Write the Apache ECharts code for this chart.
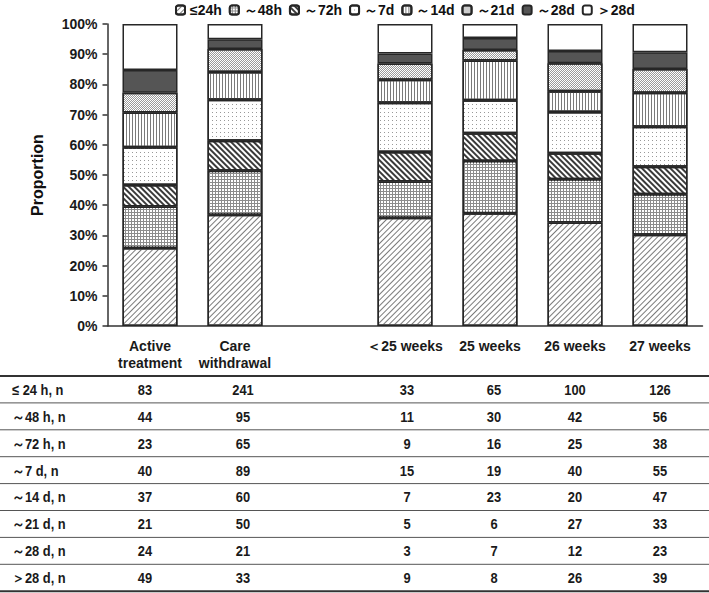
<!DOCTYPE html>
<html><head><meta charset="utf-8">
<script src="https://cdn.jsdelivr.net/npm/echarts@6/dist/echarts.min.js"></script>
<style>html,body{margin:0;padding:0;background:#fff}#c{width:709px;height:593px}</style>
</head><body><div id="c"></div>
<script>
// ---- data ----
const categories = ['Active\ntreatment', 'Care\nwithdrawal', '', '＜25 weeks', '25 weeks', '26 weeks', '27 weeks'];
const groupSlots = [0, 1, 3, 4, 5, 6];
const seriesNames = ['≤24h', '～48h', '～72h', '～7d', '～14d', '～21d', '～28d', '＞28d'];
const rowLabels = ['≤ 24 h, n', '～48 h, n', '～72 h, n', '～7 d, n', '～14 d, n', '～21 d, n', '～28 d, n', '＞28 d, n'];
const le24h = [83, 241, 33, 65, 100, 126];
const to48h = [44, 95, 11, 30, 42, 56];
const to72h = [23, 65, 9, 16, 25, 38];
const to7d = [40, 89, 15, 19, 40, 55];
const to14d = [37, 60, 7, 23, 20, 47];
const to21d = [21, 50, 5, 6, 27, 33];
const to28d = [24, 21, 3, 7, 12, 23];
const gt28d = [49, 33, 9, 8, 26, 39];
const yTicks = [0, 10, 20, 30, 40, 50, 60, 70, 80, 90, 100];

const counts = [le24h, to48h, to72h, to7d, to14d, to21d, to28d, gt28d];
const totals = groupSlots.map((_, g) => counts.reduce((s, arr) => s + arr[g], 0));

// ---- styles ----
const wide = '"Liberation Sans", Arial, sans-serif';
const fills = ['#ffffff', '#8c8c8c', '#ffffff', '#ffffff', '#ffffff', '#ffffff', '#555555', '#ffffff'];
const decals = [
  {symbol: 'rect', symbolSize: 1, dashArrayX: [1, 0], dashArrayY: [1, 3], rotation: -Math.PI / 4, color: '#7a7a7a'},
  {symbol: 'rect', symbolSize: 1, dashArrayX: [2, 1], dashArrayY: [2, 1], color: '#ffffff'},
  {symbol: 'rect', symbolSize: 1, dashArrayX: [1, 0], dashArrayY: [2, 2], rotation: Math.PI / 4, color: '#3a3a3a'},
  {symbol: 'rect', symbolSize: 1, dashArrayX: [1, 3], dashArrayY: [1, 3], color: '#999999'},
  {symbol: 'rect', symbolSize: 1, dashArrayX: [1, 2], dashArrayY: [1, 0], color: '#7a7a7a'},
  {symbol: 'rect', symbolSize: 1, dashArrayX: [[1, 1], [0, 1, 1, 0]], dashArrayY: [1, 0], color: '#9a9a9a'},
  null,
  null
];

const chart = echarts.init(document.getElementById('c'), null, {renderer: 'svg'});

const series = seriesNames.map((name, s) => {
  const data = categories.map(() => null);
  groupSlots.forEach((slot, g) => { data[slot] = counts[s][g] / totals[g] * 100; });
  const itemStyle = {color: fills[s], borderColor: '#262626', borderWidth: 1.5};
  if (decals[s]) itemStyle.decal = decals[s];
  return {name, type: 'bar', stack: 'all', barWidth: 55, data, itemStyle, emphasis: {disabled: true}};
});

chart.setOption({
  animation: false,
  backgroundColor: '#fff',
  legend: {
    data: seriesNames, left: 175, top: 3, padding: 0,
    itemWidth: 9, itemHeight: 9, itemGap: 7,
    textStyle: {fontFamily: wide, fontWeight: 'bold', fontSize: 14, color: '#111'}
  },
  grid: {left: 107.5, right: 6.5, top: 24, bottom: 267, containLabel: false},
  xAxis: {
    type: 'category', data: categories,
    axisLine: {lineStyle: {color: '#333', width: 1.5}},
    axisTick: {show: false},
    axisLabel: {fontFamily: wide, fontWeight: 'bold', fontSize: 14, color: '#1a1a1a', margin: 11, lineHeight: 17, interval: 0}
  },
  yAxis: {
    type: 'value', min: yTicks[0], max: yTicks[yTicks.length - 1], interval: 10,
    name: 'Proportion', nameLocation: 'middle', nameGap: 62,
    nameTextStyle: {fontFamily: wide, fontWeight: 'bold', fontSize: 16, color: '#111'},
    axisLine: {show: true, lineStyle: {color: '#333', width: 1.5}},
    axisTick: {show: true, length: 5, lineStyle: {color: '#333', width: 1.5}},
    splitLine: {show: false},
    axisLabel: {formatter: '{value}%', fontFamily: wide, fontWeight: 'bold', fontSize: 14, color: '#1a1a1a', margin: 10}
  },
  series
});

// ---- table below the chart ----
const colTweak = [-5, 8, 2, 4, 0, 0];
const rowTop = 376, rowH = 26.9;
const narrowScale = 0.86;
const graphics = [];
for (let r = 0; r <= rowLabels.length; r++) {
  const y = rowTop + r * rowH;
  const edge = r === 0 || r === rowLabels.length;
  graphics.push({type: 'line', shape: {x1: 0, y1: y, x2: 709, y2: y},
    style: {stroke: edge ? '#333' : '#555', lineWidth: edge ? 2 : 1}});
}
rowLabels.forEach((lab, r) => {
  const cy = rowTop + (r + 0.5) * rowH;
  graphics.push({type: 'text', x: 12, y: cy, scaleX: narrowScale,
    style: {text: lab, font: 'bold 15px ' + wide, fill: '#1a1a1a', verticalAlign: 'middle'}});
  groupSlots.forEach((slot, g) => {
    const px = chart.convertToPixel({xAxisIndex: 0}, slot) + colTweak[g];
    graphics.push({type: 'text', x: px, y: cy, scaleX: narrowScale,
      style: {text: String(counts[r][g]), font: 'bold 15px ' + wide, fill: '#1a1a1a', align: 'center', verticalAlign: 'middle'}});
  });
});
chart.setOption({graphic: graphics});
</script></body></html>
